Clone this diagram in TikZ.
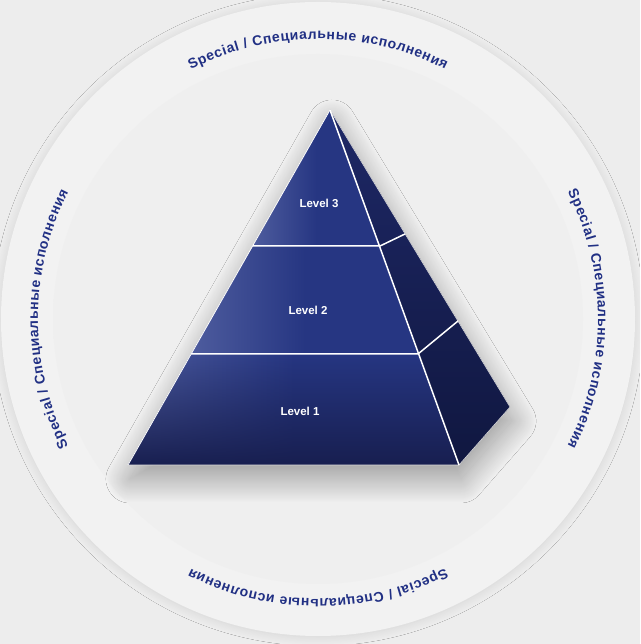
\documentclass[tikz,border=0pt]{standalone}
\usepackage{fontspec}
\setmainfont{Liberation Sans}
\usetikzlibrary{calc,decorations.text,shadows.blur,fadings}

\definecolor{ringblue}{RGB}{33,48,132}
\definecolor{pyrlight}{RGB}{78,92,158}
\definecolor{pyrmid}{RGB}{38,54,130}
\definecolor{pyrdark}{RGB}{24,31,80}
\definecolor{sidetop}{RGB}{30,40,102}
\definecolor{sidebot}{RGB}{16,23,64}
\definecolor{discin}{RGB}{239,239,239}
\definecolor{discout}{RGB}{224,224,224}
\pgfdeclareradialshading{disc}{\pgfpoint{0bp}{0bp}}{color(0bp)=(discin); color(43bp)=(discin); color(50bp)=(discout); color(72bp)=(discout)}
\tikzfading[name=fadedown, top color=transparent!100, bottom color=transparent!0]
\newcommand\ringfont{\bfseries\fontsize{14}{16}\selectfont\color{ringblue}}

\begin{document}
\begin{tikzpicture}[x=1pt,y=1pt,
  ringtext/.style={decorate,decoration={text along path,text align={fit to path},
    text={|\ringfont|Special / Специальные исполнения}}},
  band/.style={left color=pyrlight,right color=pyrmid,middle color=pyrmid},
  divider/.style={draw=white,line width=1.5pt,line join=round},
  level/.style={text=white,font=\bfseries\fontsize{11.5}{13}\selectfont}]
  \useasboundingbox (0,0) rectangle (640,644);
  \fill[black!7] (0,0) rectangle (640,644);

  \coordinate (c) at (318,325);
  \fill[black!5,blur shadow={shadow xshift=0pt,shadow yshift=-1pt,shadow blur radius=9pt,
    shadow blur steps=30,shadow opacity=10}] (c) circle[radius=317];
  \shade[shading=disc] (c) circle[radius=265];
  \foreach \a in {90,0,-90,180}
    \path[ringtext] ($(c)+(\a+27:280)$) arc[start angle=\a+27,end angle=\a-27,radius=280];

  \coordinate (apex) at (330,534);
  \coordinate (bl)   at (128,179);
  \coordinate (br)   at (459,179);
  \coordinate (bk)   at (510,237);
  \coordinate (l3a)  at (253,398);
  \coordinate (l3b)  at (380,398);
  \coordinate (l3c)  at (405,410);
  \coordinate (l2a)  at (191,290);
  \coordinate (l2b)  at (418,290);
  \coordinate (l2c)  at (458,323);

  \fill[pyrdark,blur shadow={shadow xshift=2pt,shadow yshift=-14pt,shadow blur radius=24pt,
    shadow blur steps=50,shadow opacity=36}] (apex) -- (bk) -- (br) -- (bl) -- cycle;
  \shade[top color=sidetop,bottom color=sidebot] (apex) -- (bk) -- (br) -- cycle;
  \shade[band] (apex) -- (l3b) -- (l3a) -- cycle;
  \shade[band] (l3a) -- (l3b) -- (l2b) -- (l2a) -- cycle;
  \shade[band] (l2a) -- (l2b) -- (br) -- (bl) -- cycle;
  \fill[pyrdark,path fading=fadedown] (l2a) -- (l2b) -- (br) -- (bl) -- cycle;

  \draw[black!15,line width=0.6pt] (bl) -- (br) (apex) -- (bk) -- (br);
  \draw[white,line width=0.8pt] (apex) -- (bl);
  \draw[divider] (apex) -- (br);
  \draw[divider] (l3a) -- (l3b) -- (l3c);
  \draw[divider] (l2a) -- (l2b) -- (l2c);

  \node[level] (lvl3) at (319,441) {Level 3};
  \node[level] (lvl2) at (308,334) {Level 2};
  \node[level] (lvl1) at (300,233) {Level 1};
\end{tikzpicture}
\end{document}
